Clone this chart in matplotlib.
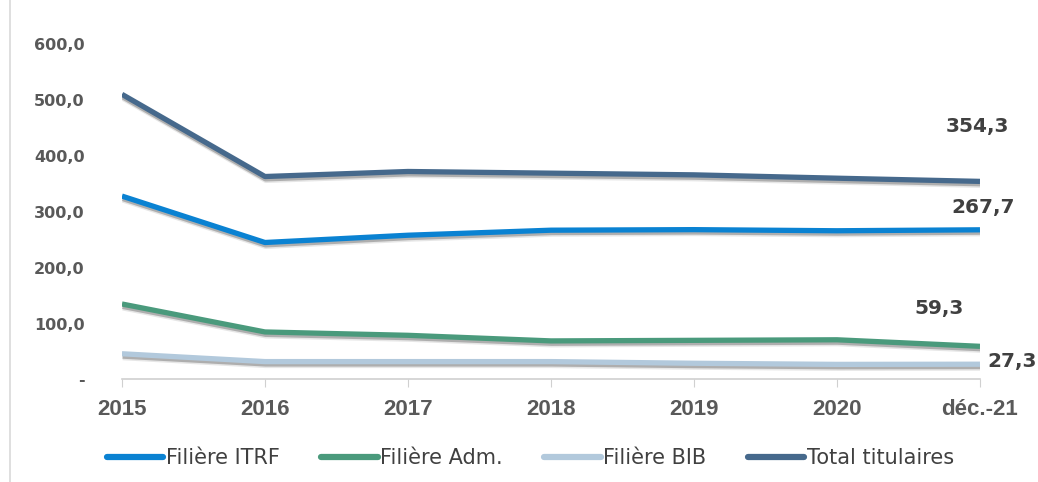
import numpy as np
import matplotlib.pyplot as plt
import matplotlib.patheffects as pe
from matplotlib.lines import Line2D
from matplotlib.ticker import FuncFormatter

plt.rcParams['font.family'] = ['Liberation Sans', 'DejaVu Sans']

# Data
years = ['2015', '2016', '2017', '2018', '2019', '2020', 'déc.-21']
itrf = [328, 245, 258, 267, 268, 266, 267.7]
adm = [135, 85, 79, 69, 70, 71, 59.3]
bib = [46, 32, 32, 32, 29, 27, 27.3]
total = [510, 363, 372, 369, 366, 360, 354.3]

names = ['Filière ITRF', 'Filière Adm.', 'Filière BIB', 'Total titulaires']
colors = ['#0A82D2', '#4A9A7C', '#B2C9DC', '#46698C']

fig = plt.figure(figsize=(10.38, 4.82), dpi=100)
ax = fig.add_axes([0.1175, 0.2127, 0.8266, 0.696])
x = np.arange(len(years))

# soft drop shadow under each line
shadow = [pe.SimpleLineShadow(offset=(0.6, -2.8), shadow_color='#777777', alpha=0.18),
          pe.SimpleLineShadow(offset=(0.4, -1.7), shadow_color='#555555', alpha=0.38),
          pe.Normal()]
for vals, name, c in zip([itrf, adm, bib, total], names, colors):
    ax.plot(x, vals, color=c, lw=3.8, solid_capstyle='butt', path_effects=shadow)

# end labels
lab_style = dict(fontsize=14.5, fontweight='bold', color='#404040',
                 family='DejaVu Sans', textcoords='offset points',
                 ha='center', va='center')
ax.annotate('354,3', (x[-1], total[-1]), xytext=(-1.5, 39.5), **lab_style)
ax.annotate('267,7', (x[-1], itrf[-1]), xytext=(2, 16), **lab_style)
ax.annotate('59,3', (x[-1], adm[-1]), xytext=(-29.5, 27), **lab_style)
ax.annotate('27,3', (x[-1], bib[-1]), xytext=(23, 2), **lab_style)

ax.set_xlim(0, len(years) - 1)
ax.set_ylim(0, 600)
ax.set_yticks(np.arange(0, 601, 100))
ax.yaxis.set_major_formatter(FuncFormatter(
    lambda v, p: '-' if v == 0 else f'{v:.1f}'.replace('.', ',')))
ax.set_xticks(x)
ax.set_xticklabels(years, fontsize=16, fontweight='bold', color='#595959')
for t in ax.get_yticklabels():
    t.set_fontsize(11.5)
    t.set_fontweight('bold')
    t.set_family('DejaVu Sans')
    t.set_color('#595959')
ax.tick_params(axis='y', length=0, pad=27)
ax.tick_params(axis='x', length=6, color='#D0D0D0', pad=8)
for s in ['top', 'right', 'left']:
    ax.spines[s].set_visible(False)
ax.spines['bottom'].set_color('#D0D0D0')
ax.spines['bottom'].set_linewidth(1.2)

handles = [Line2D([], [], color=c, lw=4.5, solid_capstyle='round') for c in colors]
fig.legend(handles, names, loc='center', bbox_to_anchor=(0.511, 0.05), ncol=4,
           frameon=False, handlelength=2.7, handletextpad=0.12, columnspacing=2.0,
           labelcolor='#404040', prop={'family': 'DejaVu Sans', 'size': 15})

# chart border on the left
fig.add_artist(Line2D([0.01, 0.01], [0.0, 1.0], color='#D9D9D9', lw=1.2))

fig.savefig('out.png', dpi=100)
